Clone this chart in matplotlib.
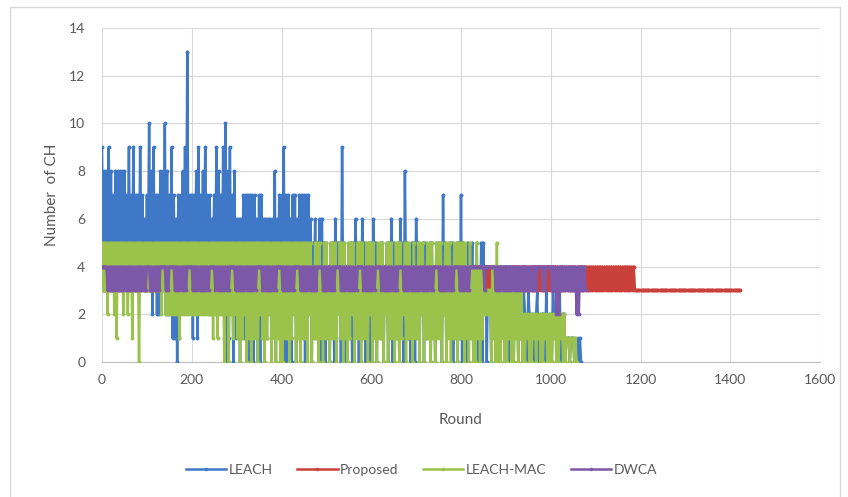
import numpy as np
import matplotlib.pyplot as plt
from matplotlib.lines import Line2D
from matplotlib.patches import Rectangle

plt.rcParams['font.family'] = ['Lato', 'DejaVu Sans']

# highest / lowest value in every 5-round bin
# hex digits (a = 10, d = 13), one string = 100 rounds
STEP = 5

leach_hi = [
    "98898788888797977976",  # 0-95
    "7a897788a879767789d7",  # 100-195
    "778978977679879a8978",  # 200-295
    "66677777767766666867",  # 300-395
    "79776776777776565665",  # 400-495
    "54556559545556556545",  # 500-595
    "56545545565456585455",  # 600-695
    "65455455455475455455",  # 700-795
    "75454545455443443443",  # 800-895
    "43443434323222322232",  # 900-995
    "23223221111111",        # 1000-1065
]
leach_lo = [
    "43443434434434343443",
    "43232243223110134343",
    "13134332343233101301",
    "20313020300231323021",
    "30020302310320313020",
    "20301302031023013020",
    "03021030203102031030",
    "30201302031020310201",
    "03012030102030102030",
    "10203010202102012010",
    "02120201010000",
]

proposed_hi = [
    "44444444444444444444",
    "44444444444444444444",
    "44444444444444444444",
    "44444444444444444444",
    "44444444444444444444",
    "44444444444444444444",
    "44444444444444444444",
    "44444444444444444444",
    "44444444444444444444",
    "44444444444444444444",
    "44444444444444444444",
    "44444444444444444433",
    "33333333333333333333",
    "33333333333333333333",
    "33333",
]
proposed_lo = [
    "33333333333333333333",
    "33333333333333333333",
    "33333333333333333333",
    "33333333333333333333",
    "33333333333333333333",
    "33333333333333333333",
    "33333333333333333333",
    "33333333333333333333",
    "33333333333333333333",
    "33333333333333333333",
    "33333333333333333333",
    "33333333333333333333",
    "33333333333333333333",
    "33333333333333333333",
    "33333",
]

leach_mac_hi = [
    "55555555555555555555",
    "55555555555555555555",
    "55555555555555555555",
    "55555555555555555555",
    "55555555555555455545",
    "54555455545554555455",
    "55455545554555455545",
    "45554555455545554555",
    "55545445444333445444",
    "33333333222222222222",
    "222222211111",
]
leach_mac_lo = [
    "33233213323231330333",
    "33333323222222122222",
    "22222222212122020212",
    "10120101102101201010",
    "01101201011020110101",
    "10110210101201101102",
    "01011020110101201101",
    "10201101011020101101",
    "10101001012220100010",
    "01001010010010100100",
    "010010010100",
]

dwca_hi = [
    "44444444444444444444",
    "44444444444444444444",
    "44444444444444444444",
    "44444444444444444444",
    "44444444444444444444",
    "44444444444444444444",
    "44444444444444444444",
    "44444444444444444444",
    "44444444444444444444",
    "44444444444444444444",
    "4444444444444444",
]
dwca_lo = [
    "44333333333333333333",
    "43333344334433333344",
    "33333333443333333443",
    "33333333344333333344",
    "33333344333333334433",
    "33334433333333443333",
    "33443333333344333333",
    "33333333443333333443",
    "33334444443444433333",
    "33333333333333443344",
    "3322333333322333",
]

names = ['LEACH', 'Proposed', 'LEACH-MAC', 'DWCA']
colors = ['#3E78C7', '#C9403B', '#9BC24B', '#7D58A8']
series = [(leach_hi, leach_lo), (proposed_hi, proposed_lo),
          (leach_mac_hi, leach_mac_lo), (dwca_hi, dwca_lo)]


def parse(chunks):
    return np.array([int(c, 16) for c in "".join(chunks)])


fig = plt.figure(figsize=(8.48, 4.97), dpi=100)
ax = fig.add_axes([102 / 848, 1 - 362 / 497, 718 / 848, 334 / 497])

for i, (col, (hi, lo)) in enumerate(zip(colors, series)):
    h, l = parse(hi), parse(lo)
    n = min(len(h), len(l))
    r = np.arange(n) * STEP
    x = np.column_stack([r, r + STEP / 2]).ravel()
    y = np.column_stack([h[:n], l[:n]]).ravel()
    ax.plot(x, y, color=col, lw=1.8, marker='o', ms=2.8, mew=0, zorder=3 + i)

ax.set_xlim(0, 1600)
ax.set_ylim(0, 14)
ax.set_xticks(range(0, 1601, 200))
ax.set_yticks(range(0, 15, 2))
ax.grid(True, color='#d9d9d9', lw=0.8)
ax.set_axisbelow(True)
for s in ['top', 'right', 'left']:
    ax.spines[s].set_visible(False)
ax.spines['bottom'].set_color('#bfbfbf')
ax.tick_params(length=0, colors='#595959', labelsize=10)
ax.tick_params(axis='x', pad=9)
ax.tick_params(axis='y', pad=12)
ax.set_xlabel('Round', color='#595959', fontsize=11, labelpad=19)
ax.set_ylabel('Number  of CH', color='#595959', fontsize=11, labelpad=7)

handles = [Line2D([], [], color=c, lw=1.8, marker='o', ms=2.5, mew=0)
           for c in colors]
fig.legend(handles, names, loc='center',
           bbox_to_anchor=(0.497, 1 - 470 / 497), ncol=4, frameon=False,
           fontsize=10, handlelength=2.9, columnspacing=1.8,
           labelcolor='#595959', handletextpad=0.15)

fig.patches.append(Rectangle((10 / 848, -0.01), 830 / 848, 1 - 7 / 497 + 0.01,
                             transform=fig.transFigure, fill=False,
                             ec='#d9d9d9', lw=1))

fig.savefig('out.png', dpi=100)
